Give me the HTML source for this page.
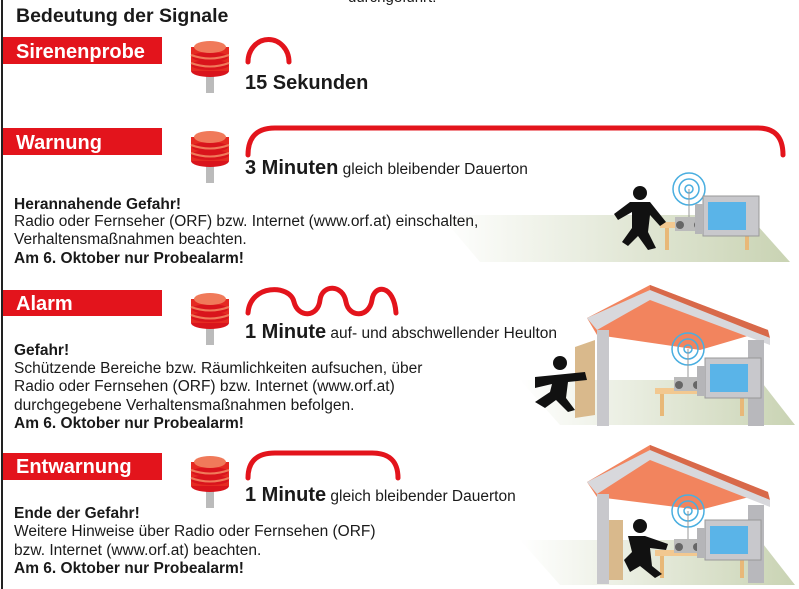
<!DOCTYPE html>
<html><head><meta charset="utf-8"><style>
body{margin:0;background:#fff}
svg{display:block}
text{font-family:"Liberation Sans",Arial,sans-serif;fill:#1a1a1a}
.b{font-weight:bold}
.w{fill:#fff;font-weight:bold;font-size:20px}
</style></head><body>
<svg width="799" height="589" viewBox="0 0 799 589">
<defs>
<linearGradient id="g" x1="0" x2="1"><stop offset="0" stop-color="#fff"/><stop offset="1" stop-color="#c9d3b3"/></linearGradient>
<g id="s">
<rect x="-4" y="30" width="8" height="20" fill="#bbb"/>
<ellipse cx="0" cy="28" rx="19" ry="6" fill="#d9141c"/>
<rect x="-19" y="4" width="38" height="24" fill="#e52a22"/>
<ellipse cx="0" cy="22" rx="19" ry="5" fill="#d9141c"/>
<ellipse cx="0" cy="14" rx="18" ry="5" fill="#d9141c"/>
<ellipse cx="0" cy="4" rx="16" ry="6" fill="#f07a5a"/>
<path d="M-19 12 Q0 19 19 12 M-19 20 Q0 27 19 20" stroke="#f07a5a" stroke-width="2" fill="none"/>
</g>
<g id="tv">
<rect x="0" y="0" width="56" height="40" fill="#c8c8cc" stroke="#999"/>
<rect x="5" y="6" width="38" height="28" fill="#5ab4e8"/>
<rect x="-8" y="8" width="8" height="30" fill="#b5b5b8"/>
</g>
<g id="radio">
<circle cx="0" cy="0" r="4" fill="none" stroke="#49aee0" stroke-width="1.5"/>
<circle cx="0" cy="0" r="10" fill="none" stroke="#49aee0" stroke-width="1.5"/>
<circle cx="0" cy="0" r="16" fill="none" stroke="#49aee0" stroke-width="1.5"/>
<line x1="0" y1="0" x2="0" y2="30" stroke="#999"/>
<rect x="-14" y="28" width="28" height="14" fill="#bbb"/>
<circle cx="-9" cy="36" r="4" fill="#666"/><circle cx="9" cy="36" r="4" fill="#666"/>
</g>
</defs>

<!-- Warnung scene -->
<polygon points="440,215 748,215 790,262 480,262" fill="url(#g)"/>
<rect x="660" y="222" width="95" height="6" fill="#f2c890"/>
<rect x="665" y="228" width="4" height="22" fill="#e8b878"/><rect x="745" y="228" width="4" height="22" fill="#e8b878"/>
<use href="#radio" x="689" y="189"/>
<use href="#tv" x="703" y="196"/>
<circle cx="640" cy="193" r="7" fill="#111"/>
<path d="M630 202 L650 202 L666 222 L660 226 L650 215 L648 232 L656 248 L648 250 L638 236 L628 246 L622 242 L632 228 L632 212 L618 220 L614 214 Z" fill="#111"/>

<!-- Alarm scene -->
<polygon points="520,380 760,380 795,425 560,425" fill="url(#g)"/>
<polygon points="587,318 650,285 768,330 700,350 597,335" fill="#f2845e"/>
<polygon points="650,285 768,330 770,338 650,293" fill="#d8694a"/>
<polygon points="587,318 650,290 770,338 770,345 650,300 597,330" fill="#d8d8dc"/>
<rect x="597" y="330" width="12" height="96" fill="#c8c8cc"/>
<rect x="748" y="340" width="16" height="86" fill="#b8b8bc"/>
<polygon points="575,347 595,340 595,415 575,418" fill="#d9b98c"/>
<rect x="655" y="388" width="95" height="6" fill="#f2c890"/>
<rect x="660" y="394" width="4" height="22" fill="#e8b878"/><rect x="740" y="394" width="4" height="22" fill="#e8b878"/>
<use href="#radio" x="688" y="349"/>
<use href="#tv" x="705" y="358"/>
<circle cx="560" cy="363" r="7" fill="#111"/>
<path d="M535 377 L585 372 L587 380 L568 382 L566 398 L575 410 L568 412 L556 400 L545 408 L535 402 L550 392 L552 384 L535 388 Z" fill="#111"/>

<!-- Entwarnung scene -->
<polygon points="520,540 760,540 795,585 560,585" fill="url(#g)"/>
<polygon points="587,482 650,445 768,492 700,510 597,497" fill="#f2845e"/>
<polygon points="650,445 768,492 770,500 650,453" fill="#d8694a"/>
<polygon points="587,482 650,450 770,500 770,507 650,460 597,494" fill="#d8d8dc"/>
<rect x="597" y="494" width="12" height="90" fill="#c8c8cc"/>
<rect x="748" y="505" width="16" height="78" fill="#b8b8bc"/>
<rect x="609" y="520" width="14" height="60" fill="#d9b98c"/>
<rect x="655" y="550" width="95" height="6" fill="#f2c890"/>
<rect x="660" y="556" width="4" height="22" fill="#e8b878"/><rect x="740" y="556" width="4" height="22" fill="#e8b878"/>
<use href="#radio" x="688" y="511"/>
<use href="#tv" x="705" y="520"/>
<circle cx="640" cy="526" r="7" fill="#111"/>
<path d="M628 536 L645 536 L668 544 L666 550 L650 548 L652 566 L662 574 L655 578 L640 566 L630 572 L624 560 L632 552 Z" fill="#111"/>

<line x1="2" y1="0" x2="2" y2="589" stroke="#222" stroke-width="2"/>
<text x="348" y="2" font-size="15">durchgeführt.</text>
<text x="16" y="22" font-size="19.5" class="b">Bedeutung der Signale</text>

<rect x="3" y="37" width="159" height="27" fill="#e3141c"/><text x="16" y="58" class="w">Sirenenprobe</text>
<rect x="3" y="128" width="159" height="27" fill="#e3141c"/><text x="16" y="149" class="w">Warnung</text>
<rect x="3" y="290" width="159" height="26" fill="#e3141c"/><text x="16" y="310" class="w">Alarm</text>
<rect x="3" y="453" width="159" height="27" fill="#e3141c"/><text x="16" y="473" class="w">Entwarnung</text>

<use href="#s" x="210" y="43"/>
<use href="#s" x="210" y="133"/>
<use href="#s" x="210" y="295"/>
<use href="#s" x="210" y="458"/>

<g stroke="#e3141c" stroke-width="5" fill="none" stroke-linecap="round">
<path d="M248 62 A20 22 0 0 1 289 62"/>
<path d="M248 155 Q248 128 275 128 L758 128 Q783 128 783 155"/>
<path d="M248 313 C250 284 290 284 294 302 C298 318 318 318 320 300 C322 284 343 284 346 302 C349 318 369 318 372 300 C374 284 394 284 396 313"/>
<path d="M248 478 Q248 453 275 453 L372 453 Q398 453 398 478"/>
</g>

<text x="245" y="89" font-size="20" class="b">15 Sekunden</text>
<text x="245" y="174" font-size="20"><tspan class="b">3 Minuten</tspan><tspan font-size="15.5"> gleich bleibender Dauerton</tspan></text>
<text x="245" y="338" font-size="20"><tspan class="b">1 Minute</tspan><tspan font-size="15.5"> auf- und abschwellender Heulton</tspan></text>
<text x="245" y="501" font-size="20"><tspan class="b">1 Minute</tspan><tspan font-size="15.5"> gleich bleibender Dauerton</tspan></text>

<g font-size="15.5">
<text x="14" y="209" class="b">Herannahende Gefahr!</text>
<text x="14" y="226">Radio oder Fernseher (ORF) bzw. Internet (www.orf.at) einschalten,</text>
<text x="14" y="244">Verhaltensmaßnahmen beachten.</text>
<text x="14" y="263" class="b">Am 6. Oktober nur Probealarm!</text>
<text x="14" y="355" class="b">Gefahr!</text>
<text x="14" y="373">Schützende Bereiche bzw. Räumlichkeiten aufsuchen, über</text>
<text x="14" y="391">Radio oder Fernsehen (ORF) bzw. Internet (www.orf.at)</text>
<text x="14" y="410">durchgegebene Verhaltensmaßnahmen befolgen.</text>
<text x="14" y="428" class="b">Am 6. Oktober nur Probealarm!</text>
<text x="14" y="518" class="b">Ende der Gefahr!</text>
<text x="14" y="536">Weitere Hinweise über Radio oder Fernsehen (ORF)</text>
<text x="14" y="555">bzw. Internet (www.orf.at) beachten.</text>
<text x="14" y="573" class="b">Am 6. Oktober nur Probealarm!</text>
</g>
</svg>
</body></html>
